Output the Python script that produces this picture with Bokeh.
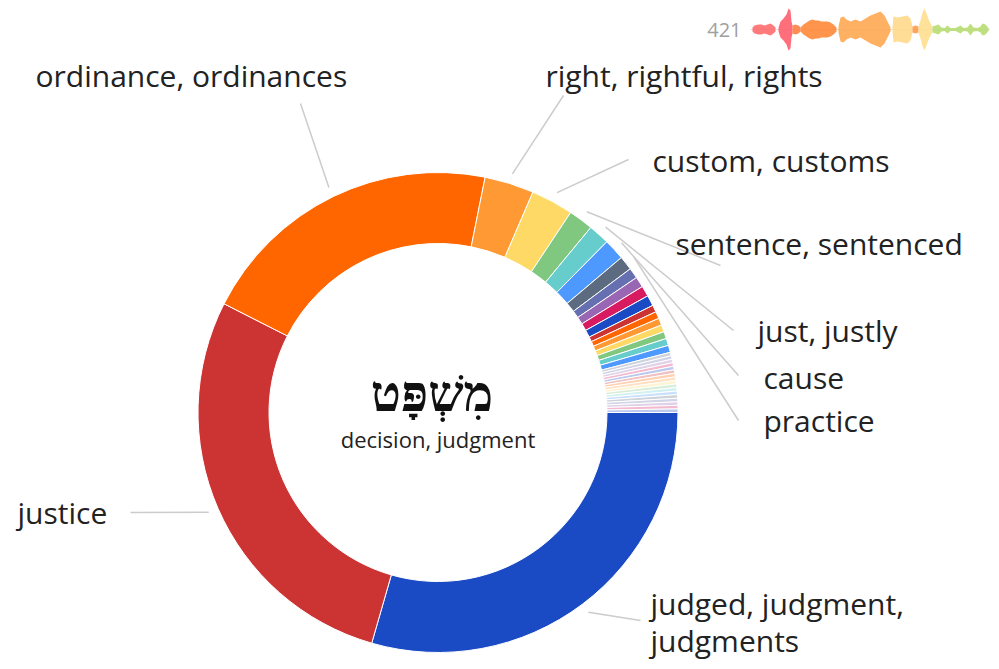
import numpy as np
from bokeh.plotting import figure
from bokeh.models import ColumnDataSource, Range1d
from bokeh.core.properties import value
from bokeh.embed import file_html
from bokeh.resources import INLINE

# ---------------- data ----------------
lemma = "מִשְׁפָּט"
gloss = "decision, judgment"

labeled_names = ["judged, judgment, judgments", "justice", "ordinance, ordinances",
                 "right, rightful, rights", "custom, customs", "sentence, sentenced",
                 "just, justly", "cause", "practice"]
labeled_counts = [124, 118, 87, 14, 12, 7, 6, 6, 4]
minor_counts = [3, 3, 3, 3, 2, 2, 2, 2, 2, 2, 2,
                1, 1, 1, 1, 1, 1, 1, 1, 1, 1, 1, 1, 1, 1, 1, 1, 1]

palette = ["#1a4bc5", "#cc3333", "#ff6600", "#ff9933", "#ffd966", "#80c87f",
           "#66cccc", "#4d99ff", "#5c6b80", "#6670b0", "#9966b3", "#d81b60"]

# sparkline: occurrences distributed through book order (position, half-amplitude), per section
spark_sections = [
    ("#ff6b6b", [0, 2, 6, 9, 12, 15, 18, 21, 23], [2, 4, 5, 5, 4, 5, 6, 4, 2]),
    ("#ff5f6d", [26, 28, 31, 34, 36, 38, 39, 40], [2, 8, 11, 15, 21, 19, 8, 4]),
    ("#ff8040", [40, 43, 46, 48], [4, 5, 4, 2]),
    ("#ff8838", [48, 51, 54, 57, 60, 63, 66, 69, 72, 75, 78, 81, 84],
     [2, 5, 7, 9, 10, 9, 9, 8, 8, 8, 7, 5, 2]),
    ("#ffa852", [86, 88, 91, 94, 98, 103, 108, 113, 118, 123, 128, 132, 136, 138],
     [3, 12, 13, 10, 8, 10, 8, 11, 14, 16, 18, 14, 6, 2]),
    ("#ffd98c", [140, 141, 145, 150, 155, 158, 160], [2, 13, 12, 13, 14, 11, 3]),
    ("#ff9a4a", [160, 163, 166], [3, 4, 3]),
    ("#ffdf8f", [166, 168, 170, 172, 174, 177, 180], [3, 9, 17, 21, 16, 8, 3]),
    ("#b7dd72", [180, 183, 186, 189, 192, 195, 198, 203, 208, 211, 215, 218, 221, 225, 228, 230, 233, 236],
     [3, 4, 5, 2, 1.5, 4, 1.5, 1.5, 4, 1.5, 2, 6, 2, 1.5, 3, 6, 5, 1.5]),
]

# ---------------- figure ----------------
p = figure(width=990, height=660, x_range=Range1d(0, 990), y_range=Range1d(-660, 0),
           x_axis_type=None, y_axis_type=None, toolbar_location=None,
           output_backend="svg", min_border=0)
p.grid.visible = False
p.outline_line_color = None
p.background_fill_color = "white"

FONT = value("Open Sans")

# donut
counts = labeled_counts + minor_counts
total = sum(counts)
cum = np.concatenate([[0], np.cumsum(counts)])
a0 = cum[:-1] / total * 2 * np.pi   # clockwise from east
a1 = cum[1:] / total * 2 * np.pi
n = len(counts)
colors = [palette[i % len(palette)] for i in range(n)]
alphas = [1.0 if c > 1 else 0.3 for c in counts]
cx, cy = 437.5, -412
r_in, r_out = 169, 240
src = ColumnDataSource(dict(start=-a1, end=-a0, color=colors, alpha=alphas))
p.annular_wedge(x=cx, y=cy, inner_radius=r_in, outer_radius=r_out,
                start_angle="start", end_angle="end", direction="anticlock",
                fill_color="color", fill_alpha="alpha", line_color="white",
                line_width=1, source=src)

# labels & connectors
label_pos = [(650, -603), (17, -512), (35, -75), (545, -75), (652, -160),
             (675, -243), (757, -330), (763, -377), (763, -420)]
conn_end = [(640, -620), (130, -512), (300, -103), (563, -95), (628, -159),
            (720, -265), (733, -330), (738, -375), (738, -420)]
mid = (a0 + a1) / 2
rc = r_out + 10
x0s, y0s, x1s, y1s = [], [], [], []
for i in range(len(labeled_names)):
    x0s.append(cx + rc * np.cos(mid[i]))
    y0s.append(cy - rc * np.sin(mid[i]))
    x1s.append(conn_end[i][0])
    y1s.append(conn_end[i][1])
p.segment(x0=x0s, y0=y0s, x1=x1s, y1=y1s, line_color="#cccccc", line_width=1.5)

lx, ly, lt = [], [], []
for i, name in enumerate(labeled_names):
    if i == 0:
        parts = ["judged, judgment,", "judgments"]
    else:
        parts = [name]
    for k, part in enumerate(parts):
        lx.append(label_pos[i][0])
        ly.append(label_pos[i][1] - 37 * k)
        lt.append(part)
p.text(x=lx, y=ly, text=lt, text_font=FONT, text_font_size="30px",
       text_align="left", text_baseline="middle", text_color="#222222")

# center
p.text(x=[cx - 6], y=[cy + 19], text=[lemma], text_font=value("Liberation Serif"),
       text_font_size="50px", text_font_style="bold", text_align="center",
       text_baseline="middle", text_color="#111111")
p.text(x=[cx], y=[cy - 26], text=[gloss], text_font=FONT, text_font_size="22px",
       text_align="center", text_baseline="middle", text_color="#222222")

# sparkline
sy = -29
sx0 = 752
p.segment(x0=[sx0 - 2], y0=[sy], x1=[sx0 + 238], y1=[sy], line_color="#dddddd", line_width=1)
for color, pos, amp in spark_sections:
    xs = sx0 + np.array(pos, dtype=float)
    am = np.array(amp, dtype=float)
    p.varea(x=xs, y1=sy - am, y2=sy + am, fill_color=color, fill_alpha=0.9)
p.text(x=[741], y=[sy], text=[str(total)], text_font=FONT, text_font_size="20px",
       text_align="right", text_baseline="middle", text_color="#a0a0a0")

open("out.html", "w").write(file_html(p, INLINE))
